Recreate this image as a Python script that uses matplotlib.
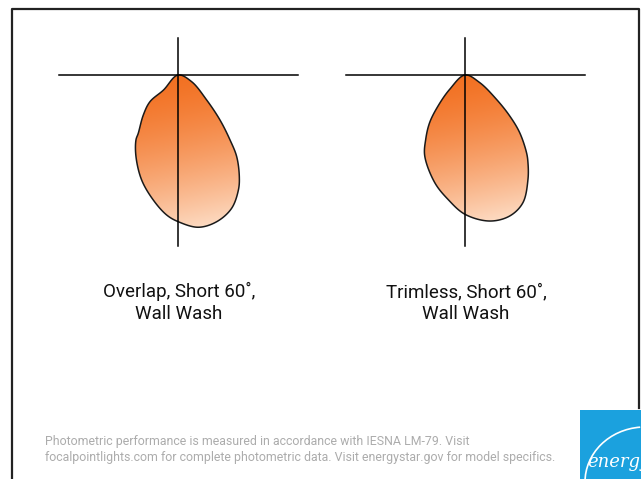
import numpy as np
import matplotlib
matplotlib.use("Agg")
import matplotlib.pyplot as plt
from matplotlib.patches import Polygon, Rectangle, Arc

plt.rcParams['font.family'] = ['Roboto', 'DejaVu Sans']

# Photometric outlines: angle from nadir (deg, negative = left side), relative intensity
ang_overlap = [-44.0, -46.4, -40.9, -34.3, -32.9, -27.2, -19.1, -11.2, -4.6, 0.1,
               7.6, 14.8, 21.9, 27.7, 31.1, 35.7, 38.7, 43.0, 48.9, 63.9]
cd_overlap = [210, 387, 530, 705, 774, 919, 1111, 1274, 1405, 1467,
              1536, 1517, 1437, 1299, 1187, 1006, 832, 616, 381, 152]

ang_trimless = [-46.9, -41.0, -36.6, -31.4, -26.4, -15.7, -7.8, 0.0, 9.6, 17.6,
                24.4, 31.1, 35.7, 38.4, 43.5, 47.5, 52.3, 62.7]
cd_trimless = [210, 411, 593, 754, 905, 1118, 1255, 1393, 1481, 1479,
               1402, 1219, 1079, 990, 794, 607, 397, 165]

title_line1 = ["Overlap, Short 60˚,", "Trimless, Short 60˚,"]
title_line2 = ["Wall Wash", "Wall Wash"]
footer = ("Photometric performance is measured in accordance with IESNA LM-79. Visit\n"
          "focalpointlights.com for complete photometric data. Visit energystar.gov for model specifics.")

SCALE = 0.1          # px per candela unit
centers = [(178, 75), (465, 75)]
top_col = np.array([0xF2, 0x6E, 0x1E]) / 255
bot_col = np.array([0xFE, 0xE4, 0xD0]) / 255


def catmull_rom(pts, n=24, alpha=0.5):
    # closed centripetal Catmull-Rom
    pts = np.asarray(pts, dtype=float)
    m = len(pts)
    out = []
    for i in range(m):
        p0, p1, p2, p3 = pts[i - 1], pts[i], pts[(i + 1) % m], pts[(i + 2) % m]
        t0 = 0.0
        t1 = t0 + np.linalg.norm(p1 - p0) ** alpha
        t2 = t1 + np.linalg.norm(p2 - p1) ** alpha
        t3 = t2 + np.linalg.norm(p3 - p2) ** alpha
        t = np.linspace(t1, t2, n, endpoint=False)[:, None]
        a1 = (t1 - t) / (t1 - t0) * p0 + (t - t0) / (t1 - t0) * p1
        a2 = (t2 - t) / (t2 - t1) * p1 + (t - t1) / (t2 - t1) * p2
        a3 = (t3 - t) / (t3 - t2) * p2 + (t - t2) / (t3 - t2) * p3
        b1 = (t2 - t) / (t2 - t0) * a1 + (t - t0) / (t2 - t0) * a2
        b2 = (t3 - t) / (t3 - t1) * a2 + (t - t1) / (t3 - t1) * a3
        out.append((t2 - t) / (t2 - t1) * b1 + (t - t1) / (t2 - t1) * b2)
    return np.vstack(out)


fig = plt.figure(figsize=(6.41, 4.79), dpi=100)
ax = fig.add_axes([0, 0, 1, 1])

for (cx, cy), ang, cd, l1, l2 in zip(centers, [ang_overlap, ang_trimless],
                                     [cd_overlap, cd_trimless], title_line1, title_line2):
    a = np.radians(np.array(ang))
    r = np.array(cd) * SCALE
    xs = cx + r * np.sin(a)
    ys = cy + r * np.cos(a)
    pts = np.column_stack([np.r_[cx, xs], np.r_[cy, ys]])
    curve = catmull_rom(pts)

    poly = Polygon(curve, closed=True, facecolor='none', edgecolor='#1a1a1a', lw=1.1, zorder=3)
    ax.add_patch(poly)
    x0, x1 = curve[:, 0].min() - 2, curve[:, 0].max() + 2
    y0, y1 = curve[:, 1].min() - 2, curve[:, 1].max() + 2
    gx, gy = np.meshgrid(np.linspace(x0, x1, 200), np.linspace(y0, y1, 300))
    t = ((gy - y0) * 0.95 + (gx - x0) * 0.2) / ((y1 - y0) * 0.95 + (x1 - x0) * 0.2)
    t = np.clip(t, 0, 1) ** 1.5
    img = top_col * (1 - t[..., None]) + bot_col * t[..., None]
    im = ax.imshow(img, extent=[x0, x1, y1, y0], origin='upper', aspect='auto', zorder=2)
    im.set_clip_path(Polygon(curve, closed=True, transform=ax.transData))

    ax.plot([cx - 119, cx + 120], [cy, cy], color='black', lw=1.1, zorder=4)
    ax.plot([cx, cx], [cy - 37, cy + 171], color='black', lw=1.1, zorder=4)
    ax.text(cx + 1, 297, l1, ha='center', va='baseline', fontsize=13.5, color='#111111')
    ax.text(cx + 1, 319, l2, ha='center', va='baseline', fontsize=13.5, color='#111111')

# frame
ax.plot([12, 12, 639, 639], [479, 9, 9, 408], color='#222222', lw=1.6, zorder=5)

ax.text(45, 461, footer, ha='left', va='baseline', fontsize=8.9, color='#acacac',
        linespacing=1.3)

# Energy Star logo (cropped at the edge)
ax.add_patch(Rectangle((580, 410), 70, 80, facecolor='#1BA1DE', edgecolor='none', zorder=5))
ax.add_patch(Arc((645, 482), 120, 110, theta1=180, theta2=265, color='white', lw=1.2, zorder=6))
ax.text(587, 467, "energy", fontsize=13, color='white', style='italic',
        family='DejaVu Serif', zorder=6, clip_on=True)

ax.set_xlim(0, 641)
ax.set_ylim(479, 0)
ax.axis('off')
fig.savefig("out.png", dpi=100)
